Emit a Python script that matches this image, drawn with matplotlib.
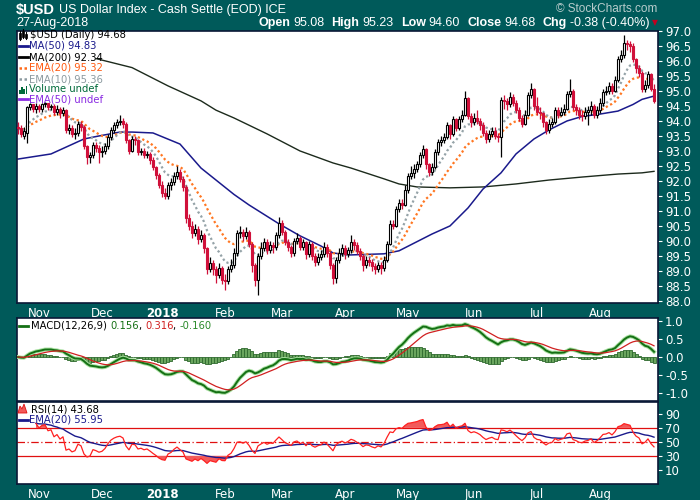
import matplotlib
matplotlib.use('Agg')
import matplotlib.pyplot as plt
from matplotlib.lines import Line2D
from matplotlib.patches import Rectangle, Polygon
import numpy as np
import pandas as pd

# --- data --------------------------------------------------------------------
holidays = ['2017-11-23', '2017-12-25', '2018-01-01', '2018-01-15',
            '2018-02-19', '2018-03-30', '2018-05-28', '2018-07-04']

opens = [
    93.80, 93.75, 93.50, 93.60, 94.45, 94.55, 94.40,
    94.50, 94.40, 94.55, 94.60, 94.45, 94.50, 94.30, 94.40, 94.25, 94.35, 93.70, 93.75, 93.55, 93.60, 93.90, 93.80, 93.15, 92.80, 92.85, 93.20, 93.10,
    92.95, 93.00, 93.15, 93.45, 93.70, 93.85, 93.95, 94.00, 93.90, 93.35, 93.00, 93.40, 93.35, 92.95, 93.00, 92.85, 92.90, 92.70, 92.45, 92.20,
    91.85, 91.60, 91.50, 91.85, 91.95, 92.15, 92.30, 92.05, 91.80, 90.75, 90.50, 90.25, 90.40, 90.05, 90.20, 89.75, 89.05, 89.25, 89.05, 88.85, 89.10,
    88.70, 88.65, 89.05, 89.20, 89.60, 90.25, 90.30, 90.15, 90.30, 89.90, 89.20, 88.70, 89.50, 89.75, 89.95, 89.70, 89.85, 89.80, 90.20,
    90.60, 90.30, 89.95, 89.80, 89.60, 90.00, 90.10, 89.80, 89.95, 89.55, 89.90, 89.50, 89.30, 89.45, 89.55, 89.80, 89.60, 89.20, 88.75, 89.35, 89.60,
    89.75, 89.55, 89.70, 89.95, 89.85, 89.65, 89.50, 89.20, 89.35, 89.30, 89.15, 89.05, 89.20, 89.10, 89.35, 89.90, 90.55, 90.50, 91.05, 91.25, 91.20,
    91.70, 92.15, 92.25, 92.40, 92.55, 92.85, 93.05, 92.55, 92.30, 92.45, 92.95, 93.30, 93.35, 93.45, 93.85, 93.55, 94.05, 93.75, 94.05, 94.20, 94.75, 94.15,
    93.95, 94.10, 94.00, 93.85, 93.60, 93.40, 93.55, 93.65, 93.50, 93.45, 94.70, 94.65, 94.55, 94.80, 94.60, 94.35, 94.10, 93.90, 94.20, 94.85, 95.05,
    94.50, 94.30, 94.25, 93.95, 93.70, 93.90, 93.95, 94.35, 94.20, 94.30, 94.40, 94.90, 95.00, 94.45, 94.35, 94.20, 94.15, 94.30, 94.35, 94.50, 94.20,
    94.35, 94.60, 94.95, 95.00, 95.15, 95.00, 95.35, 96.05, 96.20, 96.60, 96.55, 96.50, 96.05, 95.75, 95.60, 95.05, 95.20, 95.55, 95.08,
]
highs = [
    93.95, 93.85, 93.80, 94.50, 94.60, 94.58, 94.60,
    94.55, 94.60, 94.62, 94.58, 94.58, 94.55, 94.52, 94.48, 94.45, 94.40, 93.90, 93.85, 93.75, 94.00, 94.00, 93.85, 93.20, 92.95, 93.30, 93.30, 93.20,
    93.15, 93.25, 93.55, 93.80, 93.95, 94.05, 94.20, 94.10, 93.95, 93.40, 93.50, 93.50, 93.40, 93.10, 93.10, 93.00, 92.95, 92.80, 92.50, 92.25,
    92.00, 91.75, 91.95, 92.10, 92.30, 92.50, 92.40, 92.15, 91.85, 90.90, 90.65, 90.55, 90.50, 90.35, 90.25, 89.80, 89.45, 89.35, 89.15, 89.25, 89.15,
    88.90, 89.15, 89.40, 89.75, 90.35, 90.50, 90.40, 90.45, 90.35, 89.95, 89.25, 89.60, 89.95, 90.10, 90.05, 90.00, 89.95, 90.30, 90.80,
    90.70, 90.35, 90.05, 89.85, 90.10, 90.25, 90.15, 90.05, 90.00, 90.00, 89.95, 89.60, 89.60, 89.70, 89.95, 89.90, 89.65, 89.25, 89.45, 89.75, 89.90,
    89.85, 89.80, 90.20, 90.05, 89.95, 89.75, 89.55, 89.50, 89.45, 89.40, 89.25, 89.30, 89.30, 89.50, 90.00, 90.70, 90.70, 91.15, 91.40, 91.40, 91.85,
    92.25, 92.50, 92.55, 92.65, 92.95, 93.20, 93.10, 92.60, 92.60, 93.05, 93.40, 93.50, 93.60, 93.95, 93.90, 94.15, 94.10, 94.15, 94.35, 95.00, 94.80, 94.25,
    94.25, 94.35, 94.10, 93.95, 93.70, 93.70, 93.80, 93.80, 93.60, 94.80, 94.85, 94.75, 94.95, 94.90, 94.70, 94.45, 94.20, 94.35, 94.95, 95.25, 95.10,
    94.80, 94.45, 94.30, 94.00, 94.05, 94.10, 94.45, 94.45, 94.45, 94.55, 95.00, 95.40, 95.05, 94.55, 94.45, 94.35, 94.45, 94.50, 94.65, 94.55, 94.50,
    94.75, 95.05, 95.15, 95.30, 95.25, 95.50, 96.15, 96.35, 96.85, 96.70, 96.65, 96.60, 96.10, 95.85, 95.65, 95.35, 95.65, 95.60, 95.23,
]
lows = [
    93.55, 93.45, 93.40, 93.25, 94.35, 94.30, 94.25,
    94.30, 94.30, 94.45, 94.35, 94.35, 94.20, 94.20, 94.10, 94.15, 93.60, 93.55, 93.45, 93.40, 93.50, 93.65, 93.05, 92.55, 92.60, 92.75, 92.95, 92.60,
    92.80, 92.90, 93.05, 93.35, 93.60, 93.75, 93.85, 93.75, 93.25, 92.90, 92.95, 93.20, 92.85, 92.85, 92.75, 92.75, 92.55, 92.35, 92.05, 91.75,
    91.45, 91.40, 91.40, 91.70, 91.85, 92.05, 91.95, 91.65, 90.60, 90.35, 90.10, 90.15, 89.90, 89.95, 89.60, 88.90, 88.95, 88.85, 88.60, 88.75, 88.55,
    88.35, 88.55, 88.95, 89.10, 89.50, 90.10, 90.00, 90.05, 89.80, 88.95, 88.50, 88.20, 89.40, 89.65, 89.55, 89.60, 89.60, 89.70, 90.10,
    90.20, 89.85, 89.65, 89.45, 89.50, 89.90, 89.70, 89.70, 89.40, 89.45, 89.35, 89.15, 89.20, 89.35, 89.45, 89.45, 89.05, 88.55, 88.60, 89.25, 89.50,
    89.40, 89.45, 89.60, 89.70, 89.55, 89.35, 89.00, 89.10, 89.15, 89.00, 88.90, 88.95, 88.90, 89.00, 89.30, 89.85, 90.40, 90.45, 90.95, 91.05, 91.15,
    91.60, 92.05, 92.10, 92.30, 92.45, 92.75, 92.40, 92.15, 92.20, 92.40, 92.85, 93.15, 93.25, 93.40, 93.40, 93.50, 93.65, 93.70, 93.95, 94.15, 94.05, 93.80,
    93.85, 93.90, 93.70, 93.50, 93.25, 93.30, 93.45, 93.40, 93.30, 92.80, 94.40, 94.35, 94.45, 94.50, 94.25, 94.00, 93.80, 93.85, 94.15, 94.75, 94.35,
    94.20, 94.05, 93.80, 93.55, 93.60, 93.80, 93.90, 94.10, 94.15, 94.20, 94.35, 94.80, 94.35, 94.20, 94.05, 94.00, 94.05, 93.85, 94.20, 94.10, 94.10,
    94.25, 94.50, 94.85, 94.90, 94.90, 94.95, 95.30, 95.95, 96.10, 96.35, 96.30, 95.95, 95.60, 95.45, 94.95, 94.95, 95.10, 95.00, 94.60,
]
closes = [
    93.75, 93.55, 93.65, 94.45, 94.55, 94.40, 94.50,
    94.40, 94.55, 94.60, 94.45, 94.50, 94.30, 94.40, 94.25, 94.35, 93.70, 93.75, 93.55, 93.60, 93.90, 93.80, 93.15, 92.80, 92.85, 93.20, 93.10, 92.95,
    93.00, 93.15, 93.45, 93.70, 93.85, 93.95, 94.00, 93.90, 93.35, 93.00, 93.40, 93.35, 92.95, 93.00, 92.85, 92.90, 92.70, 92.45, 92.20, 91.85,
    91.60, 91.50, 91.85, 91.95, 92.15, 92.30, 92.05, 91.80, 90.75, 90.50, 90.25, 90.40, 90.05, 90.20, 89.75, 89.05, 89.25, 89.05, 88.85, 89.10, 88.70,
    88.65, 89.05, 89.20, 89.60, 90.25, 90.30, 90.15, 90.30, 89.90, 89.20, 88.70, 89.50, 89.75, 89.95, 89.70, 89.85, 89.80, 90.20, 90.60,
    90.30, 89.95, 89.80, 89.60, 90.00, 90.10, 89.80, 89.95, 89.55, 89.90, 89.50, 89.30, 89.45, 89.55, 89.80, 89.60, 89.20, 88.75, 89.35, 89.60, 89.75,
    89.55, 89.70, 89.95, 89.85, 89.65, 89.50, 89.20, 89.35, 89.30, 89.15, 89.05, 89.20, 89.10, 89.35, 89.90, 90.55, 90.50, 91.05, 91.25, 91.20, 91.70,
    92.15, 92.25, 92.40, 92.55, 92.85, 93.05, 92.55, 92.30, 92.45, 92.95, 93.30, 93.35, 93.45, 93.85, 93.55, 94.05, 93.75, 94.05, 94.20, 94.75, 94.15, 93.95,
    94.10, 94.00, 93.85, 93.60, 93.40, 93.55, 93.65, 93.50, 93.45, 94.70, 94.65, 94.55, 94.80, 94.60, 94.35, 94.10, 93.90, 94.20, 94.85, 95.05, 94.50,
    94.30, 94.25, 93.95, 93.70, 93.90, 93.95, 94.35, 94.20, 94.30, 94.40, 94.90, 95.00, 94.45, 94.35, 94.20, 94.15, 94.30, 94.35, 94.50, 94.20, 94.35,
    94.60, 94.95, 95.00, 95.15, 95.00, 95.35, 96.05, 96.20, 96.60, 96.55, 96.50, 96.05, 95.75, 95.60, 95.05, 95.20, 95.55, 95.06, 94.68,
]

# moving averages at a few bars (bar index, value)
ma50_idx = [0, 11, 22, 27, 34, 38, 45, 54, 61, 72, 77, 87, 94, 101, 105, 110, 122, 127,
            138, 144, 150, 155, 161, 166, 172, 177, 183, 188, 194, 200, 205, 208, 212]
ma50_val = [92.73, 92.90, 93.40, 93.50, 93.63, 93.63, 93.60, 93.23, 92.43, 91.55, 91.20, 90.57,
            90.17, 89.83, 89.60, 89.53, 89.57, 89.67, 90.23, 90.50, 91.10, 91.73, 92.27, 92.90,
            93.40, 93.70, 94.00, 94.15, 94.23, 94.33, 94.55, 94.72, 94.83]
ma200_idx = [26, 38, 50, 61, 66, 72, 83, 94, 105, 111, 122, 127, 133, 144, 155, 166, 177, 188, 200, 208, 212]
ma200_val = [96.08, 95.78, 95.17, 94.67, 94.36, 94.10, 93.57, 93.00, 92.60, 92.43, 92.07, 91.90,
             91.80, 91.77, 91.80, 91.90, 92.03, 92.13, 92.23, 92.27, 92.32]

month_labels = ['Nov', 'Dec', '2018', 'Feb', 'Mar', 'Apr', 'May', 'Jun', 'Jul', 'Aug']

# --- derived series ----------------------------------------------------------
dates = pd.bdate_range('2017-10-23', '2018-08-27', freq='C', holidays=holidays)
df = pd.DataFrame({'open': opens, 'high': highs, 'low': lows, 'close': closes}, index=dates)
n = len(df)
x = np.arange(n)

c = df['close']
ema10 = c.ewm(span=10, adjust=False).mean()
ema20 = c.ewm(span=20, adjust=False).mean()
macd = c.ewm(span=12, adjust=False).mean() - c.ewm(span=26, adjust=False).mean()
signal = macd.ewm(span=9, adjust=False).mean()
hist = macd - signal

delta = c.diff()
gain = delta.clip(lower=0).ewm(alpha=1 / 14, adjust=True, min_periods=6).mean()
loss = (-delta.clip(upper=0)).ewm(alpha=1 / 14, adjust=True, min_periods=6).mean()
rsi = 100 - 100 / (1 + gain / loss)
rsi_ema = rsi.ewm(span=20, adjust=False).mean()

month_pos = [i for i in range(1, n) if dates[i].month != dates[i - 1].month]

# --- figure ------------------------------------------------------------------
BG = '#005a5a'
BORDER = '#0a1836'
W, H = 700, 500

fig = plt.figure(figsize=(7, 5), dpi=100, facecolor=BG)
renderer = fig.canvas.get_renderer()


def px(xp, yp):
    return xp / W, 1 - yp / H


def pane(top, bottom):
    ax = fig.add_axes([17 / W, 1 - bottom / H, 641 / W, (bottom - top) / H])
    ax.set_facecolor('white')
    for s in ax.spines.values():
        s.set_color(BORDER)
        s.set_linewidth(1.2)
    ax.yaxis.tick_right()
    ax.tick_params(axis='y', colors='white', labelsize=8.5, length=3, width=0.8, pad=2)
    ax.tick_params(axis='x', colors='white', labelsize=8.5, length=0, pad=3)
    ax.set_xlim(-0.33, n + 0.33)
    return ax


ax1 = pane(31, 303)
ax2 = pane(318, 401)
ax3 = pane(402, 484)

# price pane
ax1.set_ylim(87.93, 97.0)
ax1.set_yticks(np.arange(88.0, 97.01, 0.5))
ax1.set_yticklabels([f'{v:.1f}' for v in np.arange(88.0, 97.01, 0.5)])

ax1.plot(ma200_idx, ma200_val, color='#1c2a1c', lw=1.0, zorder=2)
ax1.plot(ma50_idx, ma50_val, color='#1a1a8c', lw=1.1, zorder=2)
ax1.plot(x, ema20, color='#ff7722', lw=1.6, ls=(0, (1, 1.2)), zorder=2)
ax1.plot(x, ema10, color='#95a3a8', lw=1.6, ls=(0, (1, 1.2)), zorder=2)

prev = df['close'].shift(1).fillna(df['open'])
for i in range(n):
    o, hi, lo, cl = df['open'].iloc[i], df['high'].iloc[i], df['low'].iloc[i], df['close'].iloc[i]
    col = '#d0103a' if cl < prev.iloc[i] else 'black'
    ax1.vlines(i, lo, hi, color=col, lw=0.9, zorder=3)
    bottom = min(o, cl)
    height = max(abs(cl - o), 0.02)
    face = 'white' if cl >= o else col
    ax1.add_patch(Rectangle((i - 0.33, bottom), 0.66, height, facecolor=face,
                            edgecolor=col, lw=0.8, zorder=4))

ax1.set_xticks(month_pos)
ax1.set_xticklabels(month_labels)

# MACD pane
ax2.set_ylim(-1.22, 1.083)
ax2.set_yticks([-1.0, -0.5, 0.0, 0.5, 1.0])
ax2.set_yticklabels(['-1.0', '-0.5', '0.0', '0.5', '1.0'])
ax2.set_xticks([])
ax2.bar(x, hist, width=1.0, color='#6aa55e', edgecolor='#2f6a2f', lw=0.6, zorder=2)
ax2.plot(x, macd, color='#a8e0a0', lw=2.8, zorder=3)
ax2.plot(x, macd, color='#157015', lw=1.4, zorder=4)
ax2.plot(x, signal, color='#d02020', lw=0.9, zorder=4)

# RSI pane
ax3.set_ylim(-10, 107)
ax3.set_yticks([10, 30, 50, 70, 90])
ax3.set_yticklabels(['10', '30', '50', '70', '90'])
ax3.axhline(70, color='#e01010', lw=0.9, zorder=1)
ax3.axhline(30, color='#e01010', lw=0.9, zorder=1)
ax3.axhline(50, color='#e01010', lw=0.9, ls=(0, (6, 2, 1, 2)), zorder=1)
ax3.fill_between(x, 70, rsi, where=rsi > 70, interpolate=True, color='#f25a5a', lw=0, zorder=2)
ax3.fill_between(x, 30, rsi, where=rsi < 30, interpolate=True, color='#f25a5a', lw=0, zorder=2)
ax3.plot(x, rsi_ema, color='#1a1a8c', lw=1.0, zorder=3)
ax3.plot(x, rsi, color='#ff2020', lw=0.9, zorder=4)
ax3.set_xticks(month_pos)
ax3.set_xticklabels(month_labels)

for ax in (ax1, ax3):
    for t in ax.get_xticklabels():
        if t.get_text() == '2018':
            t.set_fontweight('bold')

# --- header text -------------------------------------------------------------
hdr = dict(color='white', family='Liberation Sans', va='center')


def width_of(txt, **kw):
    t = fig.text(0, 0, txt, **kw)
    w = t.get_window_extent(renderer).width
    t.remove()
    return w


t = fig.text(*px(16, 10), '$USD', fontsize=10.5, fontweight='bold', **hdr)
xp = 16 + t.get_window_extent(renderer).width + 4
fig.text(*px(xp, 10), 'US Dollar Index - Cash Settle (EOD) ICE', fontsize=9, **hdr)
fig.text(*px(16, 23), '27-Aug-2018', fontsize=9, **hdr)
fig.text(*px(657, 9), '\u00a9 StockCharts.com', fontsize=8.5, color='#b8cccc',
         family='Liberation Sans', va='center', ha='right')

quote = [('Open', 'bold'), ('95.08', 'normal'), ('High', 'bold'), ('95.23', 'normal'),
         ('Low', 'bold'), ('94.60', 'normal'), ('Close', 'bold'), ('94.68', 'normal'),
         ('Chg', 'bold'), ('-0.38 (-0.40%)', 'normal')]
widths = [width_of(txt, fontsize=9, fontweight=wt, **hdr) for txt, wt in quote]
gaps = [3 if wt == 'bold' else 7 for _, wt in quote]
total = sum(widths) + sum(gaps[:-1])
xp = 649 - total
for (txt, wt), w, g in zip(quote, widths, gaps):
    fig.text(*px(xp, 23), txt, fontsize=9, fontweight=wt, **hdr)
    xp += w + g
fig.text(*px(655, 23), '\u25bc', fontsize=5.5, color='#c00020', ha='center', va='center')

# --- pane legends ------------------------------------------------------------
leg = dict(family='DejaVu Sans', fontsize=7.2, va='center')


def seq_text(xp, yp, pieces):
    for txt, col in pieces:
        t = fig.text(*px(xp, yp), txt, color=col, **leg)
        xp += t.get_window_extent(renderer).width


def key_line(yp, col, ls='-', lw=2.0):
    fig.add_artist(Line2D([19 / W, 28 / W], [1 - yp / H] * 2, color=col, lw=lw, ls=ls,
                          transform=fig.transFigure))


# candle icon
for xi, (b, t_) in zip([20, 23, 26], [(33, 39), (31, 37), (34, 38)]):
    fig.add_artist(Line2D([xi / W] * 2, [1 - (b - 2) / H, 1 - (t_ + 1) / H], color='black', lw=0.8,
                          transform=fig.transFigure))
    fig.add_artist(Rectangle((xi / W - 0.0012, 1 - t_ / H), 0.0024, (t_ - b) / H,
                             facecolor='black', edgecolor='black', lw=0.5, transform=fig.transFigure))
seq_text(30, 35, [('$USD (Daily) 94.68', 'black')])
key_line(46, '#1a1a8c')
seq_text(29, 46, [('MA(50) 94.83', '#1a1a8c')])
key_line(57, 'black')
seq_text(29, 57, [('MA(200) 92.34', 'black')])
key_line(68, '#ff6a1a', ls=(0, (1, 1)), lw=1.8)
seq_text(29, 68, [('EMA(20) 95.32', '#ff5a10')])
key_line(79, '#8c9aa0', ls=(0, (1, 1)), lw=1.8)
seq_text(29, 79, [('EMA(10) 95.36', '#8c9aa0')])
for k, hgt in enumerate([4, 7, 5, 8]):
    fig.add_artist(Rectangle(((19 + 2.2 * k) / W, 1 - 94 / H), 1.6 / W, hgt / H,
                             facecolor='#006a3a', lw=0, transform=fig.transFigure))
seq_text(29, 89, [('Volume undef', '#006a3a')])
key_line(99, '#8a2be2')
seq_text(29, 99, [('EMA(50) undef', '#8a2be2')])

key_line(326, '#157015')
seq_text(31, 326, [('MACD(12,26,9) ', 'black'), ('0.156', '#157015'), (', ', 'black'),
                   ('0.316', '#d02020'), (', ', 'black'), ('-0.160', '#2a8a2a')])

fig.add_artist(Polygon([[18 / W, 1 - 413 / H], [20 / W, 1 - 406 / H], [22 / W, 1 - 409 / H],
                        [24 / W, 1 - 404 / H], [27 / W, 1 - 413 / H]], closed=True,
                       facecolor='#f25a5a', edgecolor='#e01010', lw=0.6, transform=fig.transFigure))
seq_text(31, 409, [('RSI(14) 43.68', 'black')])
key_line(420, '#1a1a8c')
seq_text(29, 420, [('EMA(20) 55.95', '#1a1a8c')])

fig.savefig('out.png', dpi=100, facecolor=BG)
